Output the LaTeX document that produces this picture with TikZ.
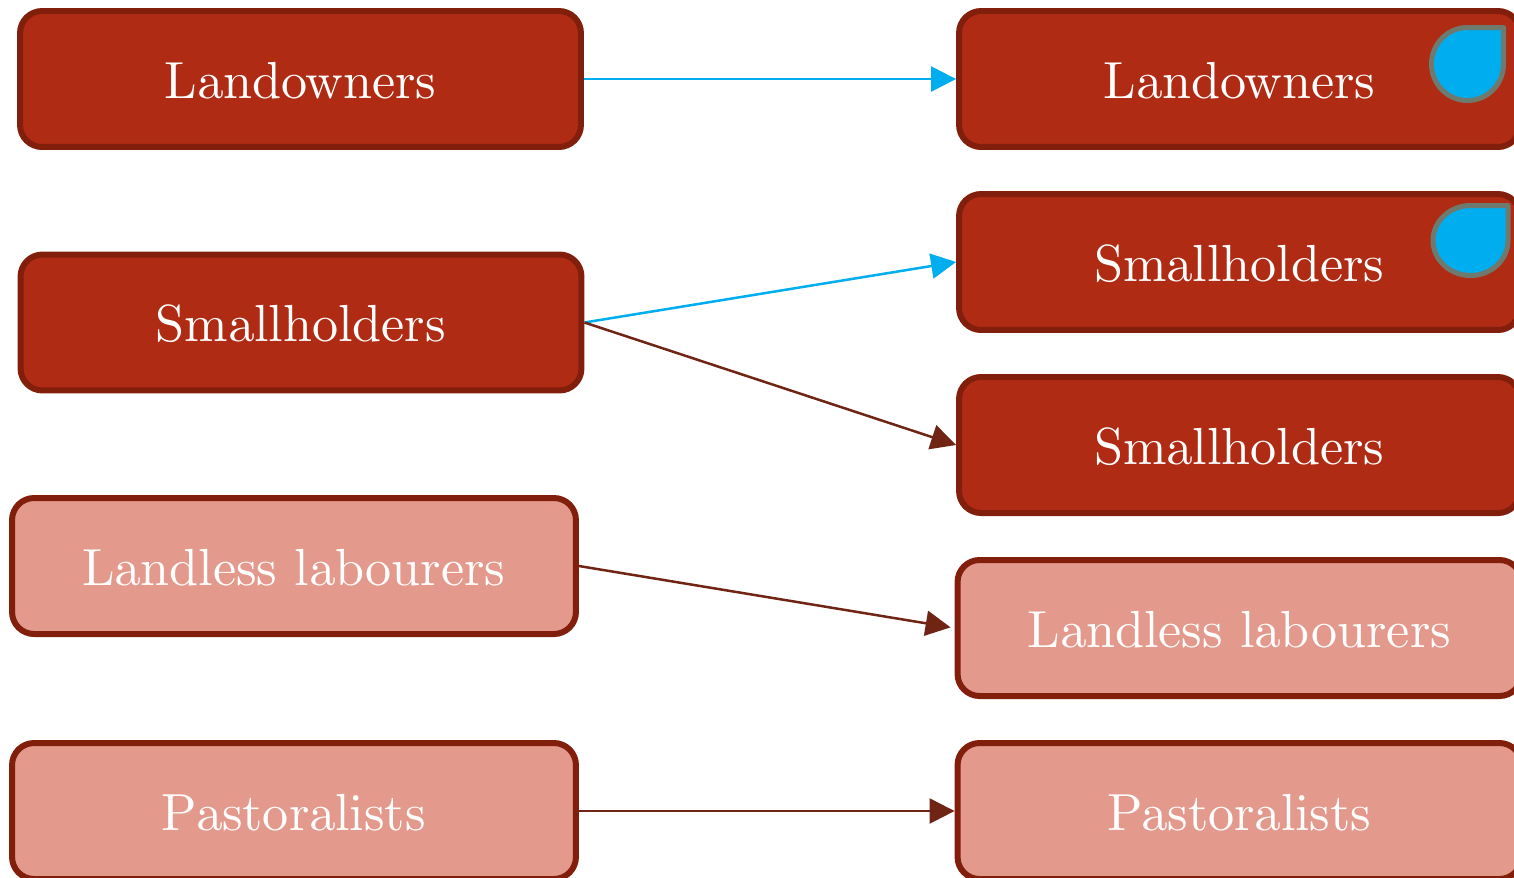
\documentclass[tikz,border=0pt]{standalone}
\usepackage{tikz}
\usetikzlibrary{arrows.meta}

\definecolor{darkbox}{RGB}{176,43,19}
\definecolor{lightbox}{RGB}{227,153,139}
\definecolor{boxline}{RGB}{130,30,12}
\definecolor{bluearrow}{RGB}{0,174,239}
\definecolor{brownarrow}{RGB}{111,36,20}
\definecolor{dropline}{RGB}{111,122,110}

\font\groupfont=cmr10 at 29.7pt

\tikzset{
    group/.style={draw=boxline, line width=0.12cm, rounded corners=0.44cm, text=white,
        minimum width=11.22cm, minimum height=2.72cm, inner sep=0pt,
        text height=22pt, text depth=0pt, font=\groupfont},
    darkgroup/.style={group, fill=darkbox},
    lightgroup/.style={group, fill=lightbox, minimum width=11.28cm},
    link/.style={line width=0.05cm, -{Triangle[length=0.5cm,width=0.5cm]}},
    bluelink/.style={link, draw=bluearrow},
    brownlink/.style={link, draw=brownarrow},
    drop/.style={draw=dropline, fill=bluearrow, line width=0.1cm, line join=round}
}

\begin{document}
\begin{tikzpicture}[x=0.02cm, y=-0.02cm]
        \path[use as bounding box, clip] (0,0) rectangle (1514,877);

        \node[darkgroup] (land1) at (300.5,79) {Landowners};
        \node[darkgroup] (small1) at (301,322.5) {Smallholders};
        \node[lightgroup] (labour1) at (294,566) {Landless labourers};
        \node[lightgroup] (past1) at (294,811) {Pastoralists};

        \node[darkgroup] (land2) at (1239.5,79) {Landowners};
        \node[darkgroup] (small2) at (1239.5,262) {Smallholders};
        \node[darkgroup] (small3) at (1239.5,445) {Smallholders};
        \node[lightgroup] (labour2) at (1239.5,628) {Landless labourers};
        \node[lightgroup] (past2) at (1239.5,811) {Pastoralists};

        \draw[bluelink] (land1) -- (land2);
        \draw[bluelink] (small1.east) -- (small2.west);
        \draw[brownlink] (small1.east) -- (small3.west);
        \draw[brownlink, shorten >=0.08cm] (labour1.east) -- (labour2.west);
        \draw[brownlink] (past1) -- (past2);

        \draw[drop] (1503.5,27.5) -- (1467.5,27.5)
            .. controls (1447.6,27.5) and (1431.5,43.8) .. (1431.5,64)
            .. controls (1431.5,84.2) and (1447.6,100.5) .. (1467.5,100.5)
            .. controls (1487.4,100.5) and (1503.5,84.2) .. (1503.5,64) -- cycle;
        \draw[drop] (1508,205.5) -- (1470.5,205.5)
            .. controls (1449.8,205.5) and (1433,221.2) .. (1433,240.5)
            .. controls (1433,259.8) and (1449.8,275.5) .. (1470.5,275.5)
            .. controls (1491.2,275.5) and (1508,259.8) .. (1508,240.5) -- cycle;
    \end{tikzpicture}
\end{document}
